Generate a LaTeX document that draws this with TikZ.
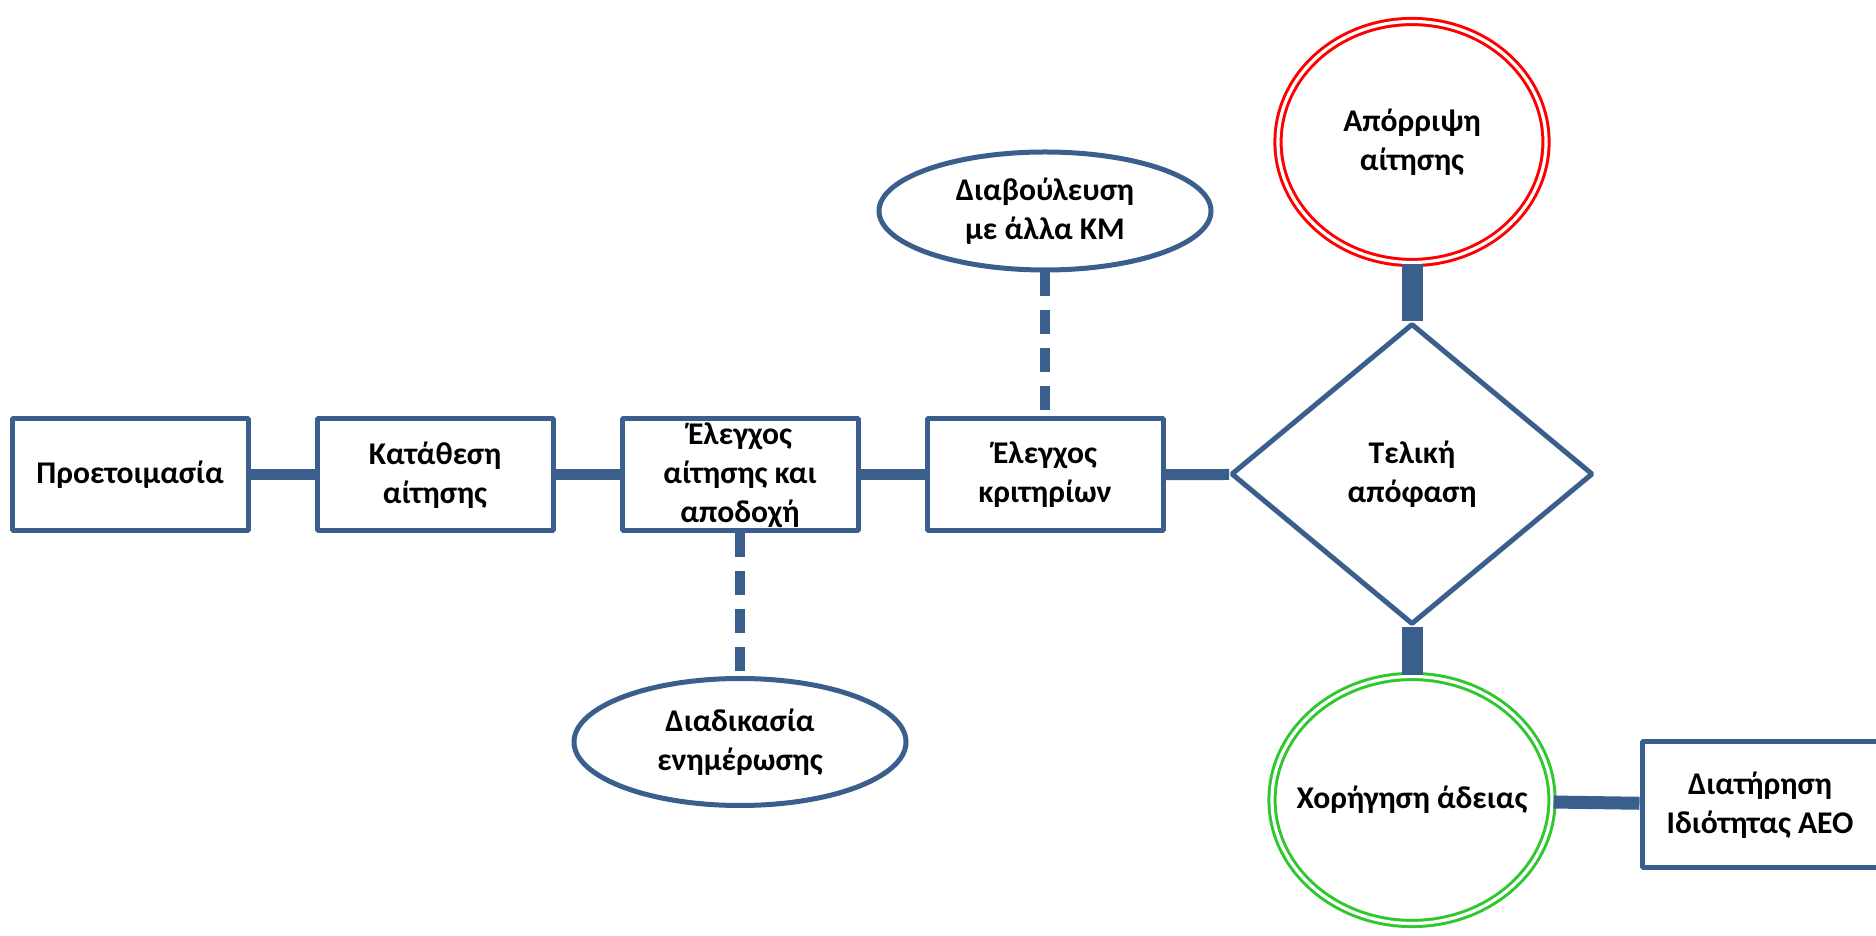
\documentclass[tikz,border=0pt]{standalone}
\usepackage{fontspec}
\setmainfont{Carlito}
\usetikzlibrary{shapes.geometric}
\definecolor{stepblue}{RGB}{58,95,140}
\definecolor{okgreen}{RGB}{46,200,46}
\begin{document}
\begin{tikzpicture}[>=latex,line join=bevel,
  every node/.style={font=\fontsize{15.8bp}{19.5bp}\selectfont\bfseries,align=center},
  box/.style={draw=stepblue,line width=2.5bp,rectangle,inner sep=0bp,minimum width=118bp,minimum height=56bp},
  talk/.style={draw=stepblue,line width=2.5bp,ellipse,inner sep=0bp,minimum width=166bp,minimum height=59bp},
  ring/.style={ellipse,line width=1.5bp,double=white,double distance=1.6bp,inner xsep=-12bp,inner ysep=0bp},
  link/.style={stepblue,line width=5.5bp},
  bar/.style={stepblue,line width=10.5bp},
  dashlink/.style={stepblue,line width=5bp,dash pattern=on 12bp off 7bp},
]
\useasboundingbox (0bp,0bp) rectangle (938bp,468bp);
%%
\node (node_0) at (65.0bp,230.5bp) [box] {Προετοιμασία};
  \node (node_1) at (217.5bp,230.5bp) [box] {Κατάθεση\\αίτησης};
  \node (node_2) at (370.0bp,230.5bp) [box] {Έλεγχος\\αίτησης και\\αποδοχή};
  \node (node_3) at (522.5bp,230.5bp) [box] {Έλεγχος\\κριτηρίων};
  \node (node_4) at (706.0bp,231.0bp) [draw=stepblue,line width=2.5bp,diamond,inner sep=0bp,minimum width=181bp,minimum height=150.5bp] {Τελική\\απόφαση};
  \node (node_5) at (706.0bp,397.0bp) [ring,draw=red,minimum width=134bp,minimum height=120.5bp] {Απόρριψη\\αίτησης};
  \node (node_6) at (706.0bp,68.0bp) [ring,draw=okgreen,minimum width=140bp,minimum height=123.5bp] {Χορήγηση άδειας};
  \node (node_7) at (880.0bp,65.5bp) [box,minimum height=63bp] {Διατήρηση\\Ιδιότητας ΑΕΟ};
  \node (node_8) at (522.5bp,362.5bp) [talk] {Διαβούλευση\\με άλλα ΚΜ};
  \node (node_9) at (370.0bp,97.0bp) [talk,minimum height=63.5bp] {Διαδικασία\\ενημέρωσης};
  \draw [link] (node_0) -- (node_1);
  \draw [link] (node_1) -- (node_2);
  \draw [link] (node_2) -- (node_3);
  \draw [link] (node_3) -- (node_4);
  \draw [bar] (node_4) -- (node_5);
  \draw [bar] (node_4) -- (node_6);
  \draw [link,line width=6.5bp] (node_6) -- (node_7);
  \draw [dashlink] (node_8) -- (node_3);
  \draw [dashlink] (node_2) -- (node_9);
%
\end{tikzpicture}
\end{document}
